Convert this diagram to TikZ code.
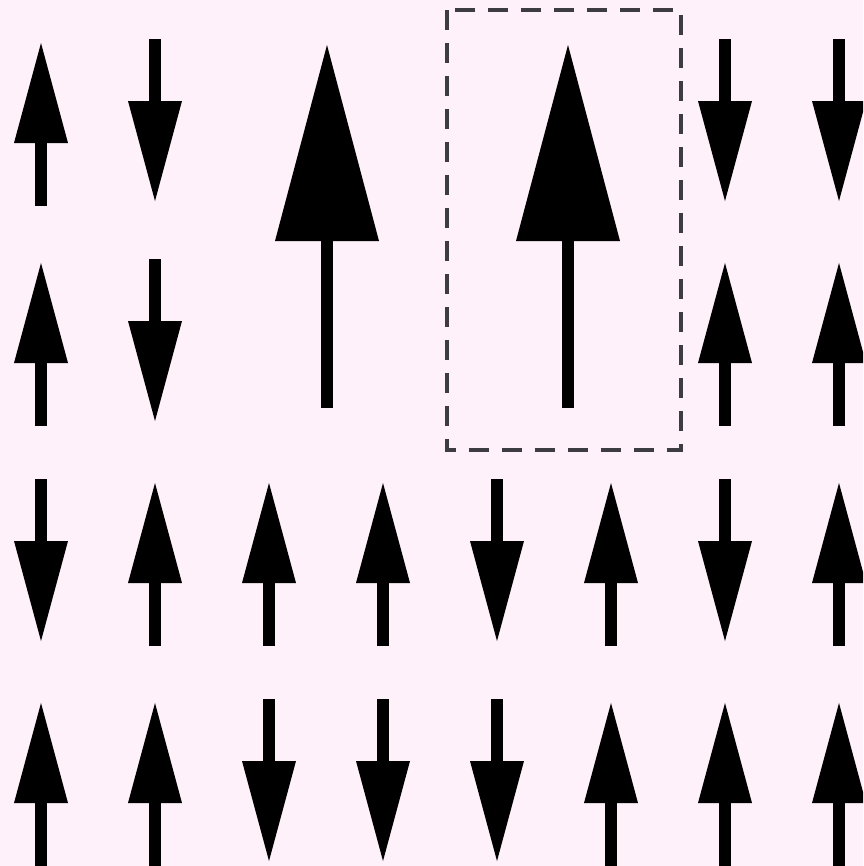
\documentclass[tikz,border=0pt]{standalone}
\usepackage{tikz}
\usetikzlibrary{calc}
\definecolor{paper}{RGB}{254,241,250}
\definecolor{boxgray}{RGB}{60,60,66}

\begin{document}
\begin{tikzpicture}[x=0.02cm, y=-0.02cm,
    shaft/.style={line width=0.24cm, black},
    headfill/.style={fill=black},
    cellbox/.style={boxgray, line width=0.065cm, dash pattern=on 0.4cm off 0.26cm}]

      % --- Define Dimensions ---
      \def\colstep{114}
      \def\rowstep{220}
      \def\halfw{27}

      % --- Background and Frame ---
      \useasboundingbox (0,0) rectangle (863,866);
      \clip (0,0) rectangle (863,866);
      \fill[paper] (0,0) rectangle (863,866);

      % --- Small Up Spins (column/row) ---
      \foreach \c/\r in {1/1, 1/2, 7/2, 8/2, 2/3, 3/3, 4/3, 6/3, 8/3, 1/4, 2/4, 6/4, 7/4, 8/4} {
        \coordinate (site) at ({41+\colstep*(\c-1)}, {123+\rowstep*(\r-1)});
        \fill[headfill] ($(site)+(-\halfw,20)$) -- ($(site)+(0,-80)$) -- ($(site)+(\halfw,20)$) -- cycle;
        \draw[shaft] ($(site)+(0,15)$) -- ($(site)+(0,83)$);
      }

      % --- Small Down Spins (column/row) ---
      \foreach \c/\r in {2/1, 7/1, 8/1, 2/2, 1/3, 5/3, 7/3, 3/4, 4/4, 5/4} {
        \coordinate (site) at ({41+\colstep*(\c-1)}, {123+\rowstep*(\r-1)});
        \fill[headfill] ($(site)+(-\halfw,-22)$) -- ($(site)+(0,78)$) -- ($(site)+(\halfw,-22)$) -- cycle;
        \draw[shaft] ($(site)+(0,-17)$) -- ($(site)+(0,-84)$);
      }

      % --- Large Up Spins ---
      \foreach \x in {327, 568} {
        \fill[headfill] (\x-52, 241) -- (\x, 45) -- (\x+52, 241) -- cycle;
        \draw[shaft, line width=0.23cm] (\x, 236) -- (\x, 408);
      }

      % --- Dashed Cell Around Second Large Spin ---
      \draw[cellbox] (447,10) rectangle (681,450);

\end{tikzpicture}
\end{document}
